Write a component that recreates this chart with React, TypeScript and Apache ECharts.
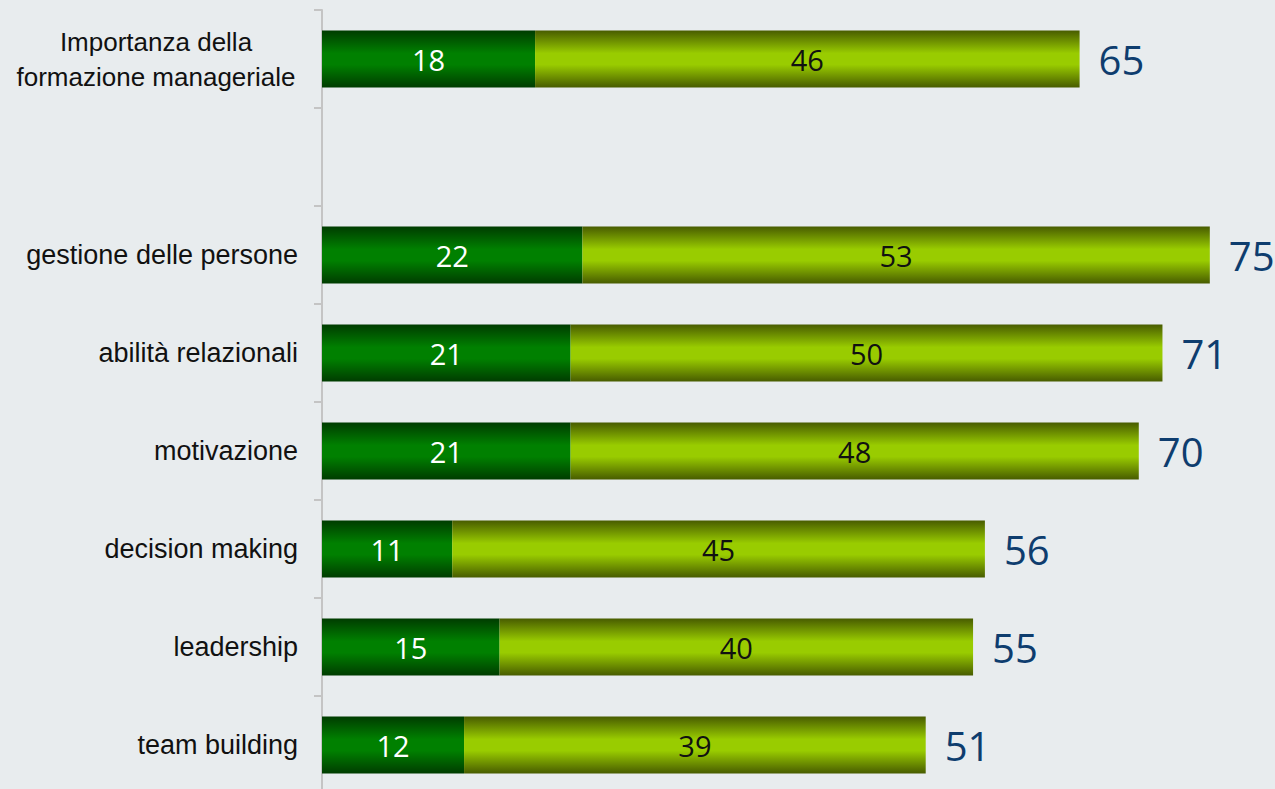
import React, { useEffect, useRef } from "react";
import * as echarts from "echarts";

const categories = [
  "Importanza della formazione manageriale",
  "",
  "gestione delle persone",
  "abilità relazionali",
  "motivazione",
  "decision making",
  "leadership",
  "team building",
];
const darkValues: (number | string)[] = [18, "-", 22, 21, 21, 11, 15, 12];
const lightValues: (number | string)[] = [46, "-", 53, 50, 48, 45, 40, 39];
const totals: (number | string)[] = [65, "-", 75, 71, 70, 56, 55, 51];

const vGrad = (edge: string, mid: string) =>
  new echarts.graphic.LinearGradient(0, 0, 0, 1, [
    { offset: 0, color: edge },
    { offset: 0.4, color: mid },
    { offset: 0.6, color: mid },
    { offset: 1, color: edge },
  ]);

export default function App() {
  const ref = useRef<HTMLDivElement>(null);
  useEffect(() => {
    if (!ref.current) return;
    const chart = echarts.init(ref.current, undefined, { renderer: "svg" });
    const sums = darkValues.map((d, i) =>
      typeof d === "number" && typeof lightValues[i] === "number"
        ? d + (lightValues[i] as number)
        : "-"
    );
    const labelFont = "'Liberation Sans', Arial, sans-serif";
    chart.setOption({
      animation: false,
      backgroundColor: "#E8ECEE",
      grid: { left: 322, right: 6, top: 10, bottom: 0, containLabel: false },
      xAxis: { type: "value", min: 0, max: 80, show: false },
      yAxis: {
        type: "category",
        inverse: true,
        data: categories,
        axisLine: { show: true, lineStyle: { color: "#C4C4C4", width: 2 } },
        axisTick: { show: true, length: 8, lineStyle: { color: "#C4C4C4", width: 2 } },
        splitLine: { show: false },
        axisLabel: {
          margin: 24,
          color: "#111111",
          fontSize: 27,
          fontFamily: labelFont,
          formatter: (v: string, i: number) => {
            if (i === 0) return "{c|Importanza della}\n{c|formazione manageriale}";
            return v;
          },
          rich: {
            c: {
              width: 284,
              align: "center",
              fontSize: 26,
              fontFamily: labelFont,
              color: "#111111",
              lineHeight: 35,
            },
          },
        },
      },
      series: [
        {
          type: "bar",
          stack: "a",
          data: darkValues,
          barWidth: 57,
          itemStyle: { color: vGrad("#003C00", "#008000") },
          label: {
            show: true,
            position: "inside",
            color: "#FFFFFF",
            fontSize: 29,
            fontFamily: "'Open Sans', sans-serif",
          },
        },
        {
          type: "bar",
          stack: "a",
          data: lightValues,
          barWidth: 57,
          itemStyle: { color: vGrad("#485C00", "#99CC00") },
          label: {
            show: true,
            position: "inside",
            color: "#111111",
            fontSize: 29,
            fontFamily: "'Open Sans', sans-serif",
          },
        },
        {
          type: "bar",
          data: sums,
          barWidth: 57,
          barGap: "-100%",
          silent: true,
          itemStyle: { color: "rgba(0,0,0,0)" },
          label: {
            show: true,
            position: "right",
            distance: 19,
            color: "#0E3D6E",
            fontSize: 40,
            fontFamily: "'Open Sans', sans-serif",
            formatter: (p: any) => String(totals[p.dataIndex]),
          },
        },
      ],
    });
    return () => chart.dispose();
  }, []);
  return (
    <div
      ref={ref}
      style={{ position: "fixed", left: 0, top: 0, width: 1275, height: 794 }}
    />
  );
}
